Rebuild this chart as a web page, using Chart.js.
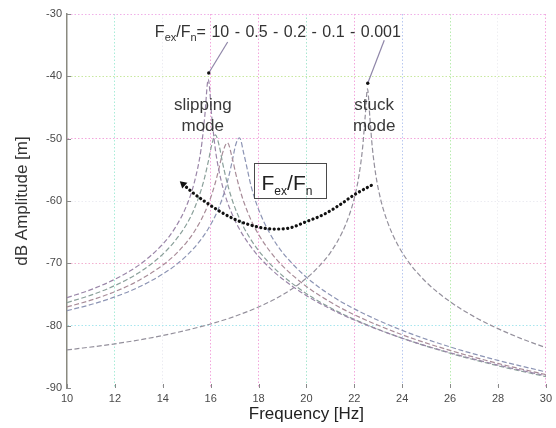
<!DOCTYPE html>
<html><head><meta charset="utf-8">
<script src="https://cdn.jsdelivr.net/npm/chart.js@4.4.1/dist/chart.umd.min.js"></script>
<style>html,body{margin:0;padding:0;background:#fff}#wrap{width:556px;height:428px}</style>
</head><body><div id="wrap"><canvas id="c" width="556" height="428"></canvas></div>
<script>
// ---- data ----
const freqSlip = [10, 11, 12, 13, 14, 14.5, 15, 15.3, 15.6, 15.75, 15.9, 16.05, 16.2, 16.35, 16.5, 16.7, 16.9, 17.05, 17.2, 17.4, 17.7, 18, 18.5, 19, 20, 21, 22, 24, 26, 28, 30];
const ampF10  = [-75.5, -74.22, -72.55, -70.29, -66.91, -64.4, -60.7, -57.27, -51.66, -46.56, -40.48, -46.65, -51.84, -55.21, -57.68, -60.2, -62.14, -63.39, -64.5, -65.79, -67.45, -68.87, -70.85, -72.5, -75.18, -77.31, -79.1, -82.01, -84.35, -86.32, -88.04];
const ampF05  = [-76.3, -75.1, -73.56, -71.5, -68.54, -66.44, -63.7, -61.39, -58.26, -56.2, -53.69, -50.91, -49.39, -51.04, -53.91, -57.24, -59.84, -61.43, -62.79, -64.36, -66.32, -67.95, -70.16, -71.98, -74.86, -77.13, -79.0, -82.02, -84.42, -86.44, -88.18];
const ampF02  = [-77.0, -75.91, -74.54, -72.74, -70.28, -68.68, -66.59, -65.01, -63.04, -61.86, -60.5, -58.9, -56.99, -54.73, -52.27, -50.65, -53.11, -55.64, -57.88, -60.32, -63.16, -65.37, -68.2, -70.4, -73.72, -76.21, -78.25, -81.46, -83.97, -86.06, -87.85];
const ampF01  = [-77.6, -76.61, -75.38, -73.81, -71.72, -70.4, -68.75, -67.56, -66.16, -65.35, -64.45, -63.45, -62.31, -60.99, -59.45, -56.9, -53.61, -50.93, -49.85, -52.68, -57.77, -61.34, -65.39, -68.24, -72.23, -75.09, -77.31, -80.76, -83.41, -85.57, -87.42];
const freqStuck = [10, 12, 14, 16, 17, 18, 19, 20, 20.5, 21, 21.5, 21.8, 22, 22.2, 22.35, 22.45, 22.55, 22.65, 22.75, 22.9, 23.1, 23.4, 23.8, 24.3, 25, 26, 27, 28, 29, 30];
const ampF0001 = [-83.9, -82.91, -81.58, -79.73, -78.51, -77.0, -75.06, -72.39, -70.59, -68.27, -64.98, -62.12, -59.54, -55.76, -51.28, -46.58, -42.0, -46.64, -51.37, -55.9, -59.75, -63.51, -66.94, -69.96, -73.01, -76.16, -78.55, -80.48, -82.12, -83.53];
const freqPath = [14.85, 15.2, 15.8, 16.4, 17.1, 17.9, 18.6, 19.2, 20.0, 20.7, 21.4, 22.0, 22.75];
const ampPath  = [-57.3, -58.5, -60.2, -61.7, -63.1, -64.1, -64.5, -64.4, -63.3, -62.2, -60.6, -59.0, -57.4];
const xTicks = [10, 12, 14, 16, 18, 20, 22, 24, 26, 28, 30];
const yTicks = [-90, -80, -70, -60, -50, -40, -30];
const ratioLabels = ['10', '0.5', '0.2', '0.1', '0.001'];

const FF = "'Liberation Sans', Arial, sans-serif";
const pts = (xs, ys) => xs.map((v, i) => ({x: v, y: ys[i]}));

const xGridCol = {10:'rgba(0,0,0,0)',12:'#a8ecd8',14:'#ececf2',16:'#f3a6dc',18:'#f3a6dc',20:'#a8e6d0',22:'#f3a6dc',24:'#b8c8f0',26:'#b8ecb0',28:'#efeff2',30:'#f3a6dc'};
const yGridCol = {'-90':'rgba(0,0,0,0)','-80':'#a8e6ee','-70':'#f3b0d0','-60':'#ececf2','-50':'#f3a6dc','-40':'#c8e8a0','-30':'#f0b0e8'};

function curve(label, data, color) {
  return {label, data, borderColor: color, borderWidth: 1.2, borderDash: [5, 2.5],
    pointRadius: 0, cubicInterpolationMode: 'monotone', fill: false, order: 1};
}

const annot = {
  id: 'annot',
  afterDatasetsDraw(chart) {
    const {ctx, scales: {x, y}, chartArea: a} = chart;
    const X = v => x.getPixelForValue(v), Y = v => y.getPixelForValue(v);
    ctx.save();
    // inward tick marks
    ctx.strokeStyle = '#8a8a8a'; ctx.lineWidth = 1;
    xTicks.forEach(t => { const px = Math.round(X(t)) + 0.5; ctx.beginPath(); ctx.moveTo(px, a.bottom); ctx.lineTo(px, a.bottom - 4); ctx.stroke(); });
    yTicks.forEach(t => { const py = Math.round(Y(t)) + 0.5; ctx.beginPath(); ctx.moveTo(a.left, py); ctx.lineTo(a.left + 4, py); ctx.stroke(); });
    // arrows from the ratio text to the two mode peaks
    ctx.strokeStyle = '#8f86a8'; ctx.lineWidth = 1.2;
    [[16.71, -34.5, 15.92, -39.47], [23.25, -34.2, 22.56, -41.12]].forEach(([x1, y1, x2, y2]) => {
      ctx.beginPath(); ctx.moveTo(X(x1), Y(y1)); ctx.lineTo(X(x2), Y(y2)); ctx.stroke();
      ctx.fillStyle = '#111'; ctx.beginPath(); ctx.arc(X(x2), Y(y2), 1.7, 0, Math.PI * 2); ctx.fill();
    });
    // top ratio text
    ctx.fillStyle = '#333'; ctx.textAlign = 'left'; ctx.textBaseline = 'alphabetic';
    let cx = X(13.67); const by = Y(-33.69);
    const seg = (t, size, dy) => { ctx.font = size + 'px ' + FF; ctx.fillText(t, cx, by + dy); cx += ctx.measureText(t).width; };
    seg('F', 16, 0); seg('ex', 11, 4); seg('/F', 16, 0); seg('n', 11, 4);
    if ('wordSpacing' in ctx) ctx.wordSpacing = '1px';
    seg('= ' + ratioLabels.join(' - '), 16, 0);
    if ('wordSpacing' in ctx) ctx.wordSpacing = '0px';
    // mode labels
    ctx.textAlign = 'center'; ctx.font = '17px ' + FF; ctx.fillStyle = '#3a3a3a';
    ctx.fillText('slipping', X(15.67), Y(-45.4));
    ctx.fillText('mode', X(15.67), Y(-48.77));
    ctx.fillText('stuck', X(22.83), Y(-45.4));
    ctx.fillText('mode', X(22.83), Y(-48.77));
    // boxed legend label
    const bx1 = X(17.83), bx2 = X(20.83), by1 = Y(-53.9), by2 = Y(-59.52);
    ctx.strokeStyle = '#4a4a4a'; ctx.lineWidth = 1;
    ctx.strokeRect(Math.round(bx1) + 0.5, Math.round(by1) + 0.5, Math.round(bx2 - bx1), Math.round(by2 - by1));
    ctx.textAlign = 'left'; ctx.fillStyle = '#222';
    cx = X(18.125); const bb = Y(-58.16);
    const seg2 = (t, size, dy) => { ctx.font = size + 'px ' + FF; ctx.fillText(t, cx, bb + dy); cx += ctx.measureText(t).width; };
    seg2('F', 21, 0); seg2('ex', 12, 5); seg2('/F', 21, 0); seg2('n', 12, 5);
    ctx.restore();
  }
};

new Chart(document.getElementById('c'), {
  type: 'line',
  data: {
    datasets: [
      {label: 'path', data: pts(freqPath, ampPath), borderColor: '#111', borderWidth: 3.2,
        borderDash: [0.1, 4.4], borderCapStyle: 'round', cubicInterpolationMode: 'monotone',
        pointStyle: 'triangle', pointRotation: -48,
        pointRadius: c => c.dataIndex === 0 ? 4.5 : 0, pointBackgroundColor: '#111', pointBorderColor: '#111',
        pointBorderWidth: 0, order: 0},
      curve('Fex/Fn = 10', pts(freqSlip, ampF10), '#9a86a8'),
      curve('Fex/Fn = 0.5', pts(freqSlip, ampF05), '#8aa09a'),
      curve('Fex/Fn = 0.2', pts(freqSlip, ampF02), '#a88c98'),
      curve('Fex/Fn = 0.1', pts(freqSlip, ampF01), '#8c94b4'),
      curve('Fex/Fn = 0.001', pts(freqStuck, ampF0001), '#94909c')
    ]
  },
  options: {
    responsive: false, animation: false, devicePixelRatio: 1,
    layout: {padding: {top: 14, right: 9, left: 0, bottom: 0}},
    plugins: {legend: {display: false}, tooltip: {enabled: false}},
    scales: {
      x: {
        type: 'linear', min: 10, max: 30,
        afterFit: s => { s.height = 40; },
        afterBuildTicks: s => { s.ticks = xTicks.map(v => ({value: v})); },
        ticks: {padding: 4, color: '#4a4a4a', font: {family: FF, size: 11}},
        grid: {drawTicks: false, lineWidth: 1, color: c => xGridCol[c.tick ? c.tick.value : 10] || '#eee'},
        border: {display: false, dash: [1.5, 2]},
        title: {display: true, text: 'Frequency [Hz]', color: '#222', font: {family: FF, size: 17}, padding: {top: 0, bottom: 3}}
      },
      y: {
        type: 'linear', min: -90, max: -30,
        afterFit: s => { s.width = 67; },
        afterBuildTicks: s => { s.ticks = yTicks.map(v => ({value: v})); },
        ticks: {padding: 5, color: '#4a4a4a', font: {family: FF, size: 11}},
        grid: {drawTicks: false, lineWidth: 1, color: c => yGridCol[String(c.tick ? c.tick.value : -90)] || '#eee'},
        border: {display: true, color: '#8a8a80', width: 1.5, dash: [1.5, 2]},
        title: {display: true, text: 'dB Amplitude [m]', color: '#333', font: {family: FF, size: 17}, padding: {top: 12, bottom: 0}}
      }
    }
  },
  plugins: [annot]
});
</script>
</body></html>
